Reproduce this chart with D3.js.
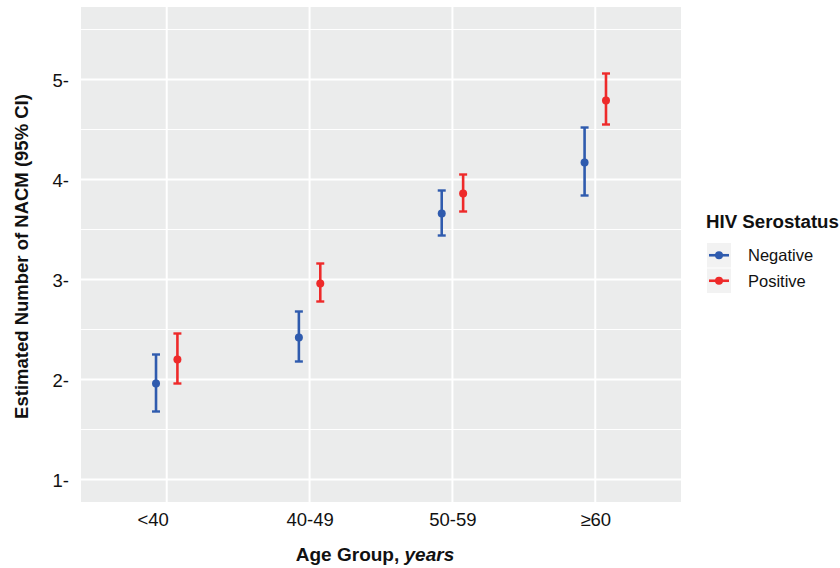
<!DOCTYPE html>
<html>
<head>
<meta charset="utf-8">
<script src="https://cdn.jsdelivr.net/npm/d3@7"></script>
<style>
  body { margin: 0; background: #fff; }
  text { font-family: "Liberation Sans", Arial, sans-serif; }
</style>
</head>
<body>
<svg id="chart"></svg>
<script>
// data
const groups = ['<40', '40-49', '50-59', '\u226560'];
const statuses = ['Negative', 'Positive'];
const negEst = [1.96, 2.42, 3.66, 4.17];
const negLow = [1.68, 2.18, 3.44, 3.84];
const negHigh = [2.25, 2.68, 3.89, 4.52];
const posEst = [2.20, 2.96, 3.86, 4.79];
const posLow = [1.96, 2.78, 3.68, 4.55];
const posHigh = [2.46, 3.16, 4.05, 5.06];
const yTicks = [1, 2, 3, 4, 5];
const yMinor = [1.5, 2.5, 3.5, 4.5, 5.5];

const colors = {Negative: '#2f5bae', Positive: '#ee2a2a'};

const width = 840, height = 568;
const margin = {top: 7, right: 159, bottom: 66, left: 81};
const w = width - margin.left - margin.right;
const h = height - margin.top - margin.bottom;

const rows = [];
groups.forEach((g, i) => {
  rows.push({group: g, status: 'Negative', est: negEst[i], low: negLow[i], high: negHigh[i]});
  rows.push({group: g, status: 'Positive', est: posEst[i], low: posLow[i], high: posHigh[i]});
});

const svg = d3.select('#chart')
    .attr('width', width)
    .attr('height', height);

const g = svg.append('g')
    .attr('transform', 'translate(' + margin.left + ',' + margin.top + ')');

// discrete x with ggplot style 0.6 expansion
const x = d3.scalePoint().domain(groups).range([0, w]).padding(0.6);
const dodge = d3.scalePoint().domain(statuses).range([-10.7, 10.7]);
const y = d3.scaleLinear().domain([0.775, 5.725]).range([h, 0]);

g.append('rect')
    .attr('width', w)
    .attr('height', h)
    .attr('fill', '#ebecec');

g.selectAll('.minor')
    .data(yMinor)
    .enter().append('line')
    .attr('class', 'minor')
    .attr('x1', 0).attr('x2', w)
    .attr('y1', d => y(d)).attr('y2', d => y(d))
    .attr('stroke', '#fff')
    .attr('stroke-width', 1);

g.selectAll('.major')
    .data(yTicks)
    .enter().append('line')
    .attr('class', 'major')
    .attr('x1', 0).attr('x2', w)
    .attr('y1', d => y(d)).attr('y2', d => y(d))
    .attr('stroke', '#fff')
    .attr('stroke-width', 2);

g.selectAll('.vgrid')
    .data(groups)
    .enter().append('line')
    .attr('class', 'vgrid')
    .attr('x1', d => x(d)).attr('x2', d => x(d))
    .attr('y1', 0).attr('y2', h)
    .attr('stroke', '#fff')
    .attr('stroke-width', 2);

// axes
const yAxis = g.append('g')
    .call(d3.axisLeft(y).tickValues(yTicks).tickSize(0).tickPadding(12).tickFormat(d => d + '-'));
yAxis.select('.domain').remove();
yAxis.selectAll('text')
    .attr('font-size', 18.5)
    .attr('fill', '#111')
    .attr('dy', '0.36em');

const xAxis = g.append('g')
    .attr('transform', 'translate(0,' + h + ')')
    .call(d3.axisBottom(x).tickSize(0).tickPadding(11));
xAxis.select('.domain').remove();
xAxis.selectAll('text')
    .attr('font-size', 18.5)
    .attr('fill', '#111');
// the first label sits left of its gridline in the original (padded label)
xAxis.selectAll('text').filter(d => d === '<40').attr('dx', -14);

// error bars and points
const bars = g.selectAll('.bar')
    .data(rows)
    .enter().append('g')
    .attr('class', 'bar')
    .attr('transform', d => 'translate(' + (x(d.group) + dodge(d.status)) + ',0)')
    .attr('stroke', d => colors[d.status])
    .attr('fill', d => colors[d.status]);

bars.append('line')
    .attr('y1', d => y(d.low)).attr('y2', d => y(d.high))
    .attr('stroke-width', 2.6);
bars.append('line')
    .attr('x1', -4).attr('x2', 4)
    .attr('y1', d => y(d.low)).attr('y2', d => y(d.low))
    .attr('stroke-width', 2.4);
bars.append('line')
    .attr('x1', -4).attr('x2', 4)
    .attr('y1', d => y(d.high)).attr('y2', d => y(d.high))
    .attr('stroke-width', 2.4);
bars.append('circle')
    .attr('cy', d => y(d.est))
    .attr('r', 4)
    .attr('stroke', 'none');

// axis titles
svg.append('text')
    .attr('transform', 'translate(28,' + (margin.top + h / 2 + 2) + ') rotate(-90)')
    .attr('text-anchor', 'middle')
    .attr('font-size', 18.5)
    .attr('font-weight', 'bold')
    .attr('fill', '#111')
    .text('Estimated Number of NACM (95% CI)');

const xt = svg.append('text')
    .attr('x', 375)
    .attr('y', 561)
    .attr('text-anchor', 'middle')
    .attr('font-size', 19)
    .attr('font-weight', 'bold')
    .attr('fill', '#111');
xt.append('tspan').text('Age Group, ');
xt.append('tspan').attr('font-style', 'italic').text('years');

// legend
const legend = svg.append('g')
    .attr('transform', 'translate(706,0)');

legend.append('text')
    .attr('x', 0)
    .attr('y', 228)
    .attr('font-size', 18.7)
    .attr('font-weight', 'bold')
    .attr('fill', '#111')
    .text('HIV Serostatus');

const keys = legend.selectAll('.key')
    .data(statuses)
    .enter().append('g')
    .attr('class', 'key')
    .attr('transform', (d, i) => 'translate(0,' + (243 + i * 25.5) + ')');

keys.append('rect')
    .attr('x', 1).attr('width', 24).attr('height', 24.5)
    .attr('fill', '#f2f2f2');
keys.append('line')
    .attr('x1', 3).attr('x2', 23)
    .attr('y1', 12.25).attr('y2', 12.25)
    .attr('stroke', d => colors[d])
    .attr('stroke-width', 2.6);
keys.append('circle')
    .attr('cx', 13).attr('cy', 12.25)
    .attr('r', 4)
    .attr('fill', d => colors[d]);
keys.append('text')
    .attr('x', 42)
    .attr('y', 12.25)
    .attr('dy', '0.36em')
    .attr('font-size', 16.5)
    .attr('fill', '#111')
    .text(d => d);
</script>
</body>
</html>
